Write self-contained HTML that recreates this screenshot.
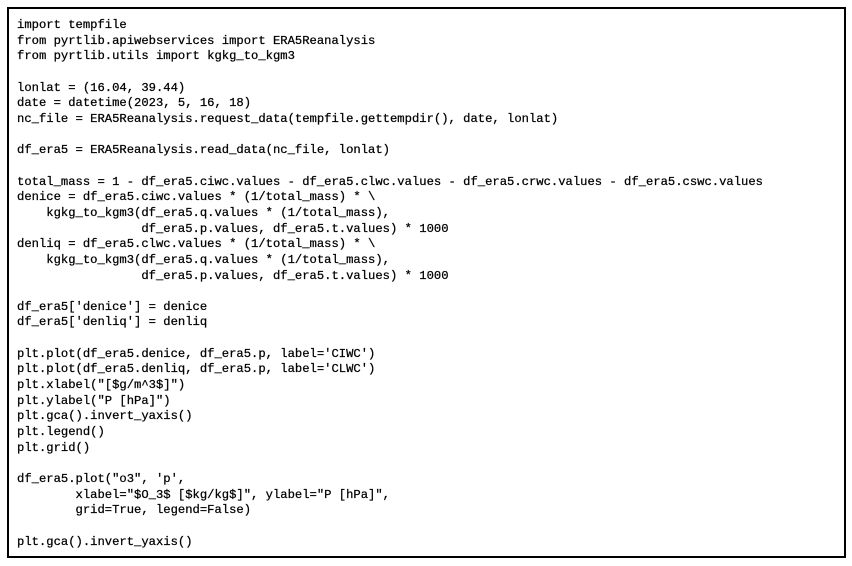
<!DOCTYPE html>
<html><head><meta charset="utf-8"><style>
html,body{margin:0;padding:0;background:#fff;width:852px;height:566px;overflow:hidden}
.box{position:absolute;left:7px;top:7px;width:835px;height:547px;border:2px solid #000;}
pre{position:absolute;left:17px;top:18px;margin:0;font-family:"Liberation Mono",monospace;font-size:12.2px;line-height:15.65px;color:#000;-webkit-text-stroke:0.25px #000;}
</style></head><body>
<div class="box"></div>
<pre>import tempfile
from pyrtlib.apiwebservices import ERA5Reanalysis
from pyrtlib.utils import kgkg_to_kgm3

lonlat = (16.04, 39.44)
date = datetime(2023, 5, 16, 18)
nc_file = ERA5Reanalysis.request_data(tempfile.gettempdir(), date, lonlat)

df_era5 = ERA5Reanalysis.read_data(nc_file, lonlat)

total_mass = 1 - df_era5.ciwc.values - df_era5.clwc.values - df_era5.crwc.values - df_era5.cswc.values
denice = df_era5.ciwc.values * (1/total_mass) * \
    kgkg_to_kgm3(df_era5.q.values * (1/total_mass),
                 df_era5.p.values, df_era5.t.values) * 1000
denliq = df_era5.clwc.values * (1/total_mass) * \
    kgkg_to_kgm3(df_era5.q.values * (1/total_mass),
                 df_era5.p.values, df_era5.t.values) * 1000

df_era5['denice'] = denice
df_era5['denliq'] = denliq

plt.plot(df_era5.denice, df_era5.p, label='CIWC')
plt.plot(df_era5.denliq, df_era5.p, label='CLWC')
plt.xlabel("[$g/m^3$]")
plt.ylabel("P [hPa]")
plt.gca().invert_yaxis()
plt.legend()
plt.grid()

df_era5.plot("o3", 'p',
        xlabel="$O_3$ [$kg/kg$]", ylabel="P [hPa]",
        grid=True, legend=False)

plt.gca().invert_yaxis()</pre>
</body></html>
